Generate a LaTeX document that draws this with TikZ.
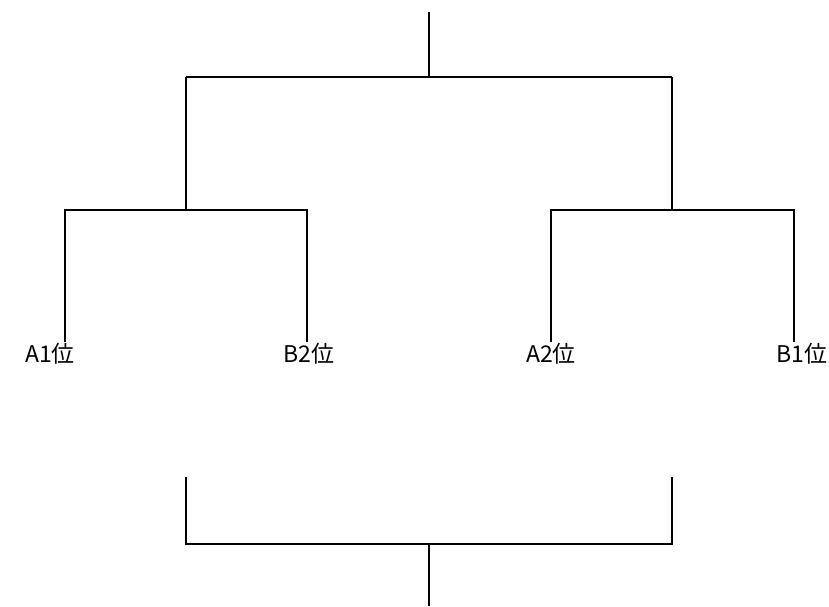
\documentclass[tikz,border=0pt]{standalone}
\usepackage{fontspec}
\setmainfont{Noto Sans CJK JP}
\begin{document}
\begin{tikzpicture}[x=1pt,y=-1pt,
  conn/.style={line width=1.6pt,line cap=butt},
  lbl/.style={font=\fontsize{23}{27}\selectfont,inner sep=0pt}]
\useasboundingbox (0,0) rectangle (829,606);
% top bracket tree
\coordinate (top) at (429,12);
\coordinate (tj) at (429,77);
\coordinate (lj) at (186,77);
\coordinate (rj) at (672,77);
\coordinate (lb) at (186,210);
\coordinate (rb) at (672,210);
\coordinate (l1) at (65,210);
\coordinate (l2) at (307,210);
\coordinate (r1) at (551,210);
\coordinate (r2) at (794,210);
\coordinate (l1e) at (65,342);
\coordinate (l2e) at (307,342);
\coordinate (r1e) at (551,342);
\coordinate (r2e) at (794,342);
\node[lbl] (a1) at (50,354) {A1位};
\node[lbl] (b2) at (309,354) {B2位};
\node[lbl] (a2) at (551,354) {A2位};
\node[lbl] (b1) at (802,354) {B1位};
\draw[conn] (top) -- (tj);
\draw[conn] (lj) -- (rj);
\draw[conn] (lj) -- (lb);
\draw[conn] (rj) -- (rb);
\draw[conn] (l1e) -- (l1) -- (l2) -- (l2e);
\draw[conn] (r1e) -- (r1) -- (r2) -- (r2e);
% bottom bracket
\coordinate (bl) at (186,477);
\coordinate (br) at (672,477);
\coordinate (bjl) at (186,544);
\coordinate (bjr) at (672,544);
\coordinate (bj) at (429,544);
\coordinate (bend) at (429,606);
\draw[conn] (bl) -- (bjl) -- (bjr) -- (br);
\draw[conn] (bj) -- (bend);
\end{tikzpicture}
\end{document}
